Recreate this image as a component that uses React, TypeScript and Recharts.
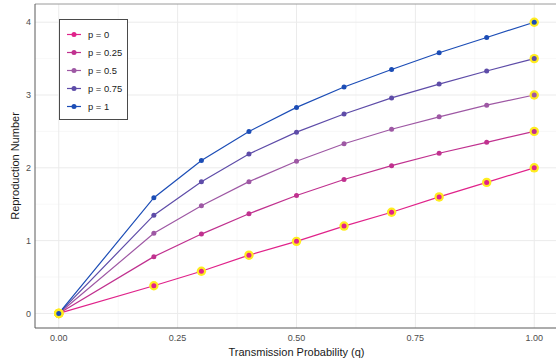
import React from "react";
import { LineChart, Line, XAxis, YAxis, ReferenceLine } from "recharts";

const qValues = [0, 0.2, 0.3, 0.4, 0.5, 0.6, 0.7, 0.8, 0.9, 1.0];
const rP0 = [0, 0.38, 0.58, 0.8, 0.99, 1.2, 1.39, 1.6, 1.8, 2.0];
const rP025 = [0, 0.78, 1.09, 1.37, 1.62, 1.84, 2.03, 2.2, 2.35, 2.5];
const rP05 = [0, 1.1, 1.48, 1.81, 2.09, 2.33, 2.53, 2.7, 2.86, 3.0];
const rP075 = [0, 1.35, 1.81, 2.19, 2.49, 2.74, 2.96, 3.15, 3.33, 3.5];
const rP1 = [0, 1.59, 2.1, 2.5, 2.83, 3.11, 3.35, 3.58, 3.79, 4.0];

const seriesLabels = ["p = 0", "p = 0.25", "p = 0.5", "p = 0.75", "p = 1"];
const seriesKeys = ["p0", "p025", "p05", "p075", "p1"];
const seriesColors = ["#E0228A", "#C0318F", "#9E58A4", "#5E4CA8", "#1C4DB6"];
// indices of highlighted (yellow-ringed) points per series
const highlights = [
  [0, 1, 2, 3, 4, 5, 6, 7, 8, 9],
  [0, 9],
  [0, 9],
  [0, 9],
  [0, 9],
];

const xTicks = [0, 0.25, 0.5, 0.75, 1];
const yTicks = [0, 1, 2, 3, 4];
const xMinor = [0.125, 0.375, 0.625, 0.875];
const yMinor = [0.5, 1.5, 2.5, 3.5];

const seriesValues = [rP0, rP025, rP05, rP075, rP1];
const data = qValues.map((q, i) => {
  const row: Record<string, number> = { q };
  seriesKeys.forEach((k, s) => {
    row[k] = seriesValues[s][i];
  });
  return row;
});

const FONT = "'Liberation Sans', Arial, Helvetica, sans-serif";

const makeDot = (color: string, hl: number[]) => (props: any) => {
  const { cx, cy, index } = props;
  if (cx == null || cy == null) return <g key={`d-${index}`} />;
  return (
    <g key={`d-${color}-${index}`}>
      {hl.includes(index) && <circle cx={cx} cy={cy} r={4.7} fill="#FFEC1F" />}
      <circle cx={cx} cy={cy} r={2.5} fill={color} />
    </g>
  );
};

export default function App() {
  return (
    <div
      style={{
        position: "absolute",
        left: 0,
        top: 0,
        width: 556,
        height: 361,
        overflow: "hidden",
        background: "#fff",
        fontFamily: FONT,
      }}
    >
      <LineChart
        width={560}
        height={361}
        data={data}
        margin={{ top: 4, right: 2, bottom: 0, left: 0 }}
      >
        {yMinor.map((v) => (
          <ReferenceLine key={`ym${v}`} y={v} stroke="#F3F3F3" strokeWidth={0.6} />
        ))}
        {xMinor.map((v) => (
          <ReferenceLine key={`xm${v}`} x={v} stroke="#F3F3F3" strokeWidth={0.6} />
        ))}
        {yTicks.map((v) => (
          <ReferenceLine key={`yM${v}`} y={v} stroke="#EBEBEB" strokeWidth={1} />
        ))}
        {xTicks.map((v) => (
          <ReferenceLine key={`xM${v}`} x={v} stroke="#EBEBEB" strokeWidth={1} />
        ))}
        <ReferenceLine y={4.25} stroke="#9A9A9A" strokeWidth={1} />
        <XAxis
          dataKey="q"
          type="number"
          domain={[-0.05, 1.05]}
          ticks={xTicks}
          allowDataOverflow
          tickFormatter={(v: number) => v.toFixed(2)}
          tickLine={false}
          tickSize={4}
          tickMargin={3}
          height={33}
          axisLine={{ stroke: "#5A5A5A", strokeWidth: 1 }}
          tick={{ fill: "#4D4D4D", fontSize: 9, fontFamily: FONT }}
          label={{
            value: "Transmission Probability (q)",
            position: "insideBottom",
            offset: 5,
            fill: "#1A1A1A",
            fontSize: 11,
            fontFamily: FONT,
          }}
        />
        <YAxis
          type="number"
          domain={[-0.2, 4.25]}
          ticks={yTicks}
          allowDataOverflow
          tickLine={false}
          tickSize={4}
          tickMargin={0}
          width={35}
          axisLine={{ stroke: "#5A5A5A", strokeWidth: 1 }}
          tick={{ fill: "#4D4D4D", fontSize: 9, fontFamily: FONT }}
          label={{
            value: "Reproduction Number",
            angle: -90,
            position: "insideLeft",
            offset: 0,
            dx: 15,
            fill: "#1A1A1A",
            fontSize: 11,
            fontFamily: FONT,
            style: { textAnchor: "middle" },
          }}
        />
        {seriesKeys.map((k, s) => (
          <Line
            key={k}
            dataKey={k}
            type="linear"
            stroke={seriesColors[s]}
            strokeWidth={1.2}
            dot={makeDot(seriesColors[s], highlights[s])}
            activeDot={false}
            isAnimationActive={false}
          />
        ))}
      </LineChart>
      <div
        style={{
          position: "absolute",
          left: 59,
          top: 19,
          width: 67,
          height: 99,
          border: "1px solid #4A4A4A",
          background: "#fff",
        }}
      >
        <svg width={67} height={99}>
          {seriesLabels.map((lab, s) => {
            const y = 14.5 + s * 18;
            return (
              <g key={lab}>
                <line x1={7} x2={21} y1={y} y2={y} stroke={seriesColors[s]} strokeWidth={1.2} />
                <circle cx={14} cy={y} r={2.5} fill={seriesColors[s]} />
                <text
                  x={28}
                  y={y + 3.3}
                  fontSize={9.4}
                  fill="#1A1A1A"
                  fontFamily={FONT}
                >
                  {lab}
                </text>
              </g>
            );
          })}
        </svg>
      </div>
    </div>
  );
}
